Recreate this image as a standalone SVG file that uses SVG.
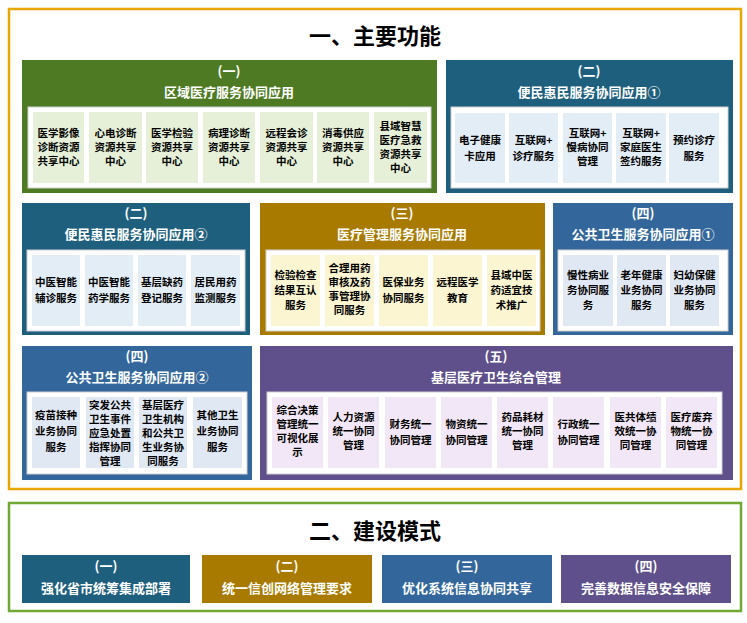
<svg xmlns="http://www.w3.org/2000/svg" width="747" height="623" viewBox="0 0 747 623">
<style>
text{font-family:"Noto Sans CJK SC","Liberation Sans",sans-serif;font-weight:bold;text-anchor:middle}
.h{fill:#fff;font-size:13px}
.t{fill:#000;font-size:10.5px}
.big{fill:#000;font-size:22px}
.inner{fill:#fff;stroke:#d0d0d0;stroke-width:1}
.g{fill:#e6f0d8}.tl{fill:#e2edf6}.gd{fill:#fbf5d2}.bl{fill:#e0e8f3}.pu{fill:#f2e7f6}
</style>
<rect x="9" y="9" width="732" height="480" fill="#fff" stroke="#e6a800" stroke-width="2.5"/>
<text class="big" x="375" y="44">一、主要功能</text>

<g id="p1">
<rect x="22" y="60" width="415" height="133" fill="#4e7a23"/>
<text class="h" x="229" y="76">(一)</text><text class="h" x="229" y="97">区域医疗服务协同应用</text>
<rect class="inner" x="28" y="107" width="403" height="81"/>
<rect class="g" x="33" y="112" width="51" height="71"/><text class="t"><tspan x="58.5" y="137">医学影像</tspan><tspan x="58.5" y="151">诊断资源</tspan><tspan x="58.5" y="165">共享中心</tspan></text>
<rect class="g" x="89" y="112" width="53" height="71"/><text class="t"><tspan x="115.5" y="137">心电诊断</tspan><tspan x="115.5" y="151">资源共享</tspan><tspan x="115.5" y="165">中心</tspan></text>
<rect class="g" x="146" y="112" width="52" height="71"/><text class="t"><tspan x="172" y="137">医学检验</tspan><tspan x="172" y="151">资源共享</tspan><tspan x="172" y="165">中心</tspan></text>
<rect class="g" x="203" y="112" width="52" height="71"/><text class="t"><tspan x="229" y="137">病理诊断</tspan><tspan x="229" y="151">资源共享</tspan><tspan x="229" y="165">中心</tspan></text>
<rect class="g" x="260" y="112" width="53" height="71"/><text class="t"><tspan x="286.5" y="137">远程会诊</tspan><tspan x="286.5" y="151">资源共享</tspan><tspan x="286.5" y="165">中心</tspan></text>
<rect class="g" x="317" y="112" width="52" height="71"/><text class="t"><tspan x="343" y="137">消毒供应</tspan><tspan x="343" y="151">资源共享</tspan><tspan x="343" y="165">中心</tspan></text>
<rect class="g" x="374" y="112" width="53" height="71"/><text class="t"><tspan x="400.5" y="130">县域智慧</tspan><tspan x="400.5" y="144">医疗急救</tspan><tspan x="400.5" y="158">资源共享</tspan><tspan x="400.5" y="172">中心</tspan></text>
</g>

<g id="p2">
<rect x="446" y="60" width="287" height="133" fill="#1f5f7e"/>
<text class="h" x="589" y="76">(二)</text><text class="h" x="589" y="97">便民惠民服务协同应用①</text>
<rect class="inner" x="451" y="107" width="277" height="81"/>
<rect class="tl" x="455" y="113" width="50" height="70"/><text class="t"><tspan x="480" y="144">电子健康</tspan><tspan x="480" y="160">卡应用</tspan></text>
<rect class="tl" x="509" y="113" width="49" height="70"/><text class="t"><tspan x="533.5" y="144">互联网+</tspan><tspan x="533.5" y="160">诊疗服务</tspan></text>
<rect class="tl" x="563" y="113" width="49" height="70"/><text class="t"><tspan x="587.5" y="137">互联网+</tspan><tspan x="587.5" y="151">慢病协同</tspan><tspan x="587.5" y="165">管理</tspan></text>
<rect class="tl" x="616" y="113" width="50" height="70"/><text class="t"><tspan x="641" y="137">互联网+</tspan><tspan x="641" y="151">家庭医生</tspan><tspan x="641" y="165">签约服务</tspan></text>
<rect class="tl" x="669" y="113" width="50" height="70"/><text class="t"><tspan x="694" y="144">预约诊疗</tspan><tspan x="694" y="160">服务</tspan></text>
</g>

<g id="p3">
<rect x="22" y="203" width="228" height="132" fill="#1f5f7e"/>
<text class="h" x="136" y="218">(二)</text><text class="h" x="136" y="239">便民惠民服务协同应用②</text>
<rect class="inner" x="27" y="250" width="218" height="81"/>
<rect class="tl" x="32" y="255" width="48" height="71"/><text class="t"><tspan x="56" y="286">中医智能</tspan><tspan x="56" y="302">辅诊服务</tspan></text>
<rect class="tl" x="85" y="255" width="48" height="71"/><text class="t"><tspan x="109" y="286">中医智能</tspan><tspan x="109" y="302">药学服务</tspan></text>
<rect class="tl" x="138" y="255" width="48" height="71"/><text class="t"><tspan x="162" y="286">基层缺药</tspan><tspan x="162" y="302">登记服务</tspan></text>
<rect class="tl" x="191" y="255" width="49" height="71"/><text class="t"><tspan x="215.5" y="286">居民用药</tspan><tspan x="215.5" y="302">监测服务</tspan></text>
</g>

<g id="p4">
<rect x="260" y="203" width="285" height="132" fill="#a87b00"/>
<text class="h" x="402" y="218">(三)</text><text class="h" x="402" y="239">医疗管理服务协同应用</text>
<rect class="inner" x="266" y="250" width="274" height="81"/>
<rect class="gd" x="271" y="255" width="49" height="71"/><text class="t"><tspan x="295.5" y="279">检验检查</tspan><tspan x="295.5" y="294">结果互认</tspan><tspan x="295.5" y="309">服务</tspan></text>
<rect class="gd" x="325" y="255" width="49" height="71"/><text class="t"><tspan x="349.5" y="272">合理用药</tspan><tspan x="349.5" y="286">审核及药</tspan><tspan x="349.5" y="300">事管理协</tspan><tspan x="349.5" y="314">同服务</tspan></text>
<rect class="gd" x="379" y="255" width="49" height="71"/><text class="t"><tspan x="403.5" y="286">医保业务</tspan><tspan x="403.5" y="302">协同服务</tspan></text>
<rect class="gd" x="433" y="255" width="49" height="71"/><text class="t"><tspan x="457.5" y="286">远程医学</tspan><tspan x="457.5" y="302">教育</tspan></text>
<rect class="gd" x="487" y="255" width="49" height="71"/><text class="t"><tspan x="511.5" y="279">县域中医</tspan><tspan x="511.5" y="294">药适宜技</tspan><tspan x="511.5" y="309">术推广</tspan></text>
</g>

<g id="p5">
<rect x="553" y="203" width="180" height="132" fill="#33679c"/>
<text class="h" x="643" y="218">(四)</text><text class="h" x="643" y="239">公共卫生服务协同应用①</text>
<rect class="inner" x="558" y="250" width="170" height="81"/>
<rect class="bl" x="563" y="255" width="50" height="71"/><text class="t"><tspan x="588" y="279">慢性病业</tspan><tspan x="588" y="294">务协同服</tspan><tspan x="588" y="309">务</tspan></text>
<rect class="bl" x="617" y="255" width="49" height="71"/><text class="t"><tspan x="641.5" y="279">老年健康</tspan><tspan x="641.5" y="294">业务协同</tspan><tspan x="641.5" y="309">服务</tspan></text>
<rect class="bl" x="670" y="255" width="49" height="71"/><text class="t"><tspan x="694.5" y="279">妇幼保健</tspan><tspan x="694.5" y="294">业务协同</tspan><tspan x="694.5" y="309">服务</tspan></text>
</g>

<g id="p6">
<rect x="22" y="346" width="230" height="134" fill="#33679c"/>
<text class="h" x="137" y="361">(四)</text><text class="h" x="137" y="382">公共卫生服务协同应用②</text>
<rect class="inner" x="27" y="392" width="220" height="82"/>
<rect class="bl" x="32" y="397" width="48" height="71"/><text class="t"><tspan x="56" y="419">疫苗接种</tspan><tspan x="56" y="435">业务协同</tspan><tspan x="56" y="451">服务</tspan></text>
<rect class="bl" x="86" y="397" width="48" height="71"/><text class="t"><tspan x="110" y="409">突发公共</tspan><tspan x="110" y="423">卫生事件</tspan><tspan x="110" y="437">应急处置</tspan><tspan x="110" y="451">指挥协同</tspan><tspan x="110" y="465">管理</tspan></text>
<rect class="bl" x="139" y="397" width="48" height="71"/><text class="t"><tspan x="163" y="409">基层医疗</tspan><tspan x="163" y="423">卫生机构</tspan><tspan x="163" y="437">和公共卫</tspan><tspan x="163" y="451">生业务协</tspan><tspan x="163" y="465">同服务</tspan></text>
<rect class="bl" x="193" y="397" width="49" height="71"/><text class="t"><tspan x="217.5" y="419">其他卫生</tspan><tspan x="217.5" y="435">业务协同</tspan><tspan x="217.5" y="451">服务</tspan></text>
</g>

<g id="p7">
<rect x="260" y="346" width="473" height="134" fill="#5f4f8a"/>
<text class="h" x="496" y="361">(五)</text><text class="h" x="496" y="382">基层医疗卫生综合管理</text>
<rect class="inner" x="267" y="392" width="455" height="82"/>
<rect class="pu" x="272" y="397" width="51" height="71"/><text class="t"><tspan x="297.5" y="414">综合决策</tspan><tspan x="297.5" y="428">管理统一</tspan><tspan x="297.5" y="442">可视化展</tspan><tspan x="297.5" y="456">示</tspan></text>
<rect class="pu" x="328" y="397" width="51" height="71"/><text class="t"><tspan x="353.5" y="421">人力资源</tspan><tspan x="353.5" y="435">统一协同</tspan><tspan x="353.5" y="449">管理</tspan></text>
<rect class="pu" x="385" y="397" width="51" height="71"/><text class="t"><tspan x="410.5" y="428">财务统一</tspan><tspan x="410.5" y="444">协同管理</tspan></text>
<rect class="pu" x="441" y="397" width="51" height="71"/><text class="t"><tspan x="466.5" y="428">物资统一</tspan><tspan x="466.5" y="444">协同管理</tspan></text>
<rect class="pu" x="497" y="397" width="51" height="71"/><text class="t"><tspan x="522.5" y="421">药品耗材</tspan><tspan x="522.5" y="435">统一协同</tspan><tspan x="522.5" y="449">管理</tspan></text>
<rect class="pu" x="553" y="397" width="51" height="71"/><text class="t"><tspan x="578.5" y="428">行政统一</tspan><tspan x="578.5" y="444">协同管理</tspan></text>
<rect class="pu" x="610" y="397" width="51" height="71"/><text class="t"><tspan x="635.5" y="421">医共体绩</tspan><tspan x="635.5" y="435">效统一协</tspan><tspan x="635.5" y="449">同管理</tspan></text>
<rect class="pu" x="666" y="397" width="51" height="71"/><text class="t"><tspan x="691.5" y="421">医疗废弃</tspan><tspan x="691.5" y="435">物统一协</tspan><tspan x="691.5" y="449">同管理</tspan></text>
</g>

<rect x="9" y="503" width="732" height="108" fill="#fff" stroke="#70a834" stroke-width="2.5"/>
<text class="big" x="375" y="539">二、建设模式</text>
<g id="m1"><rect x="22" y="555" width="168" height="48" fill="#1f5f7e"/><text class="h"><tspan x="106" y="571">(一)</tspan><tspan x="106" y="593">强化省市统筹集成部署</tspan></text></g>
<g id="m2"><rect x="202" y="555" width="170" height="48" fill="#a87b00"/><text class="h"><tspan x="287" y="571">(二)</tspan><tspan x="287" y="593">统一信创网络管理要求</tspan></text></g>
<g id="m3"><rect x="382" y="555" width="170" height="48" fill="#33679c"/><text class="h"><tspan x="467" y="571">(三)</tspan><tspan x="467" y="593">优化系统信息协同共享</tspan></text></g>
<g id="m4"><rect x="561" y="555" width="170" height="48" fill="#5f4f8a"/><text class="h"><tspan x="646" y="571">(四)</tspan><tspan x="646" y="593">完善数据信息安全保障</tspan></text></g>
<g id="connectors"/>
</svg>
